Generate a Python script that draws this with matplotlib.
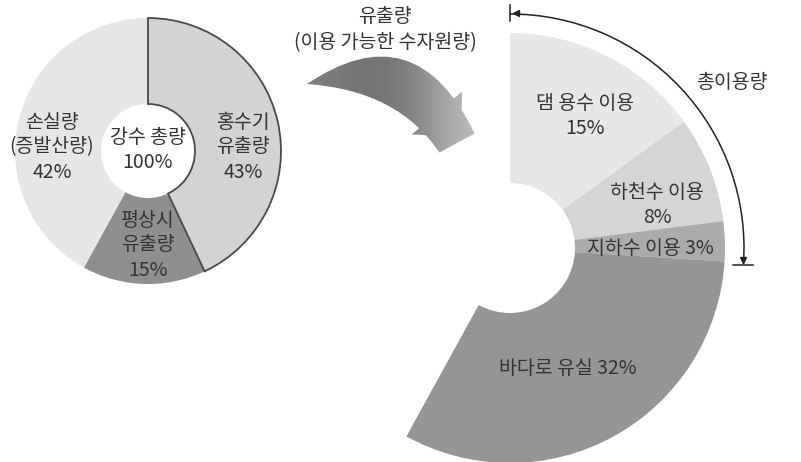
import numpy as np
import matplotlib
matplotlib.use("Agg")
import matplotlib.pyplot as plt
from matplotlib.patches import FancyArrowPatch, Arc

plt.rcParams['font.family'] = ['Noto Sans CJK KR', 'DejaVu Sans']

# left donut: total precipitation
left_labels = ["홍수기\n유출량\n43%", "평상시\n유출량\n15%", "손실량\n(증발산량)\n42%"]
left_values = [43, 15, 42]
left_colors = ["#d3d3d3", "#8f8f8f", "#e6e6e6"]

# right partial donut: runoff use (share of total precipitation)
right_labels = ["댐 용수 이용\n15%", "하천수 이용\n8%", "지하수 이용 3%", "바다로 유실 32%"]
right_values = [15, 8, 3, 32]
right_colors = ["#e7e7e7", "#d5d5d5", "#ababab", "#959595"]

W, H = 801, 462
fig = plt.figure(figsize=(W / 100, H / 100), dpi=100)
ax = fig.add_axes([0, 0, 1, 1])

txt = dict(ha="center", va="center", color="#333333", fontsize=14, linespacing=1.25)

# left donut
lc = (148, H - 151)
wl, _ = ax.pie(left_values, colors=left_colors, startangle=90, counterclock=False,
               center=lc, radius=133, frame=True,
               wedgeprops=dict(width=86, linewidth=0))
wl[0].set_edgecolor("#4a4a4a")
wl[0].set_linewidth(1.3)
wl[0].set_zorder(3)
ax.text(lc[0], lc[1] + 1, "강수 총량\n100%", **txt)
ax.text(243, H - 147, left_labels[0], **txt)
ax.text(148, H - 245, left_labels[1], **txt)
ax.text(52, H - 147, left_labels[2], **txt)

# right partial donut
rc = (510, H - 248)
fr = [v / 100 for v in right_values]
wr, _ = ax.pie(fr, colors=right_colors, startangle=90, counterclock=False,
               center=rc, radius=215, normalize=False, frame=True,
               wedgeprops=dict(width=150, linewidth=0))
ax.text(585, H - 116, right_labels[0], **txt)
ax.text(657, H - 205, right_labels[1], **txt)
ax.text(650, H - 248, right_labels[2], **txt)
ax.text(568, H - 368, right_labels[3], **txt)

ax.set_xlim(0, W)
ax.set_ylim(0, H)
ax.set_aspect("equal")
ax.axis("off")

# gradient arrow between donuts: tapered body + head
tip, tail = (457, H - 143), (307, H - 84)
body = FancyArrowPatch(tip, tail, connectionstyle="arc3,rad=0.42",
                       arrowstyle="wedge,tail_width=40,shrink_factor=1.2",
                       mutation_scale=1, shrinkA=0, shrinkB=0,
                       facecolor="none", edgecolor="none")
head = FancyArrowPatch(tail, tip, connectionstyle="arc3,rad=-0.42",
                       arrowstyle="simple,head_width=66,head_length=36,tail_width=0.5",
                       mutation_scale=1, shrinkA=0, shrinkB=0,
                       facecolor="none", edgecolor="none")
grad = np.array([[0.5, 0.46, 0.45, 0.5, 0.64, 0.74]])
for p in (body, head):
    ax.add_patch(p)
    im = ax.imshow(grad, cmap="gray", vmin=0, vmax=1, aspect="auto",
                   extent=(300, 490, H - 170, H - 40), interpolation="bicubic")
    im.set_clip_path(p)
ax.text(385, H - 17, "유출량", **txt)
ax.text(385, H - 43, "(이용 가능한 수자원량)", **txt)

# total-use arc
R = 234
ax.add_patch(Arc(rc, 2 * R, 2 * R, theta1=-4, theta2=90, color="#222222", lw=1.1))
ax.plot([rc[0], rc[0]], [H - 5, H - 21], color="#222222", lw=1.1)
ax.plot([rc[0] + 6], [H - 13], marker="<", color="#222222", ms=5)
ax.plot([733, 753], [H - 265, H - 265], color="#222222", lw=1.1)
ax.plot([rc[0] + R * np.cos(np.radians(-4))], [H - 260], marker="v", color="#222222", ms=5)
ax.text(732, H - 82, "총이용량", **txt)

fig.savefig("out.png", dpi=100, facecolor="white")
